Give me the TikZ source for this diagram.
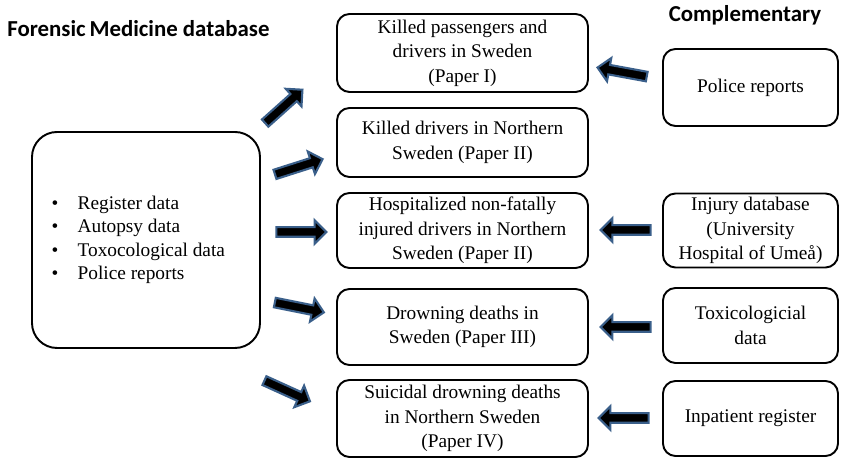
\documentclass[tikz,border=0pt]{standalone}
\usepackage{fontspec}
\setmainfont{Liberation Serif}
\newfontfamily\headfont{Carlito}
\usetikzlibrary{shapes.arrows}
\definecolor{arrowblue}{RGB}{58,95,138}
\tikzset{
  box/.style={draw, line width=1.1pt, rounded corners=0.25cm, align=center,
    font=\fontsize{11}{14}\selectfont, inner sep=0pt},
  midbox/.style={box, minimum width=5.02cm},
  sidebox/.style={box, minimum width=3.5cm},
  fatarrow/.style={single arrow, fill=black, draw=arrowblue, line width=1.2pt,
    minimum height=1cm, text height=0.15cm, text depth=0pt, text width=0pt,
    single arrow head extend=0.14cm, single arrow head indent=0pt, inner sep=0pt,
    midway, sloped, allow upside down},
  heading/.style={font=\headfont\bfseries\fontsize{13}{15}\selectfont, inner sep=0pt}
}
\begin{document}
\begin{tikzpicture}
			\useasboundingbox (0,0) rectangle (16.88,9.16);
			% headings
			\node[heading, anchor=west] (fmdtitle) at (0.14,8.58) {Forensic\,Medicine database};
			\node[heading] (comptitle) at (14.9,8.86) {Complementary};
			% forensic medicine database
			\node[box, minimum width=4.56cm, minimum height=4.32cm, rounded corners=0.5cm,
				font=\fontsize{11}{13.4}\selectfont, align=left] (fmd) at (2.92,4.36)
				{\textbullet\hspace{1em}Register data\\
				 \textbullet\hspace{1em}Autopsy data\\
				 \textbullet\hspace{1em}Toxocological data\hspace{0.8em}\mbox{}\\
				 \textbullet\hspace{1em}Police reports};
			% papers
			\node[midbox, minimum height=1.56cm] (paperone) at (9.25,8.10) {Killed passengers and\\drivers in Sweden\\(Paper I)};
			\node[midbox, minimum height=1.38cm] (papertwo) at (9.25,6.31) {Killed drivers in Northern\\Sweden (Paper II)};
			\node[midbox, minimum height=1.50cm] (papertwoh) at (9.25,4.55) {Hospitalized non-fatally\\injured drivers in Northern\\Sweden (Paper II)};
			\node[midbox, minimum height=1.52cm] (paperthree) at (9.25,2.62) {Drowning deaths in\\Sweden (Paper III)};
			\node[midbox, minimum height=1.54cm] (paperfour) at (9.25,0.79) {Suicidal drowning deaths\\in Northern Sweden\\(Paper IV)};
			% complementary sources
			\node[sidebox, minimum height=1.54cm] (police) at (15.01,7.41) {Police reports};
			\node[sidebox, minimum height=1.48cm] (injury) at (15.01,4.55) {Injury database\\(University\\Hospital of Umeå)};
			\node[sidebox, minimum height=1.50cm] (toxdata) at (15.01,2.65) {Toxicologicial\\data};
			\node[sidebox, minimum height=1.50cm] (inpatient) at (15.01,0.79) {Inpatient register};
			% arrow ends
			\coordinate (t1) at (5.26,6.66); \coordinate (h1) at (6.02,7.34);
			\coordinate (t2) at (5.46,5.66); \coordinate (h2) at (6.40,5.96);
			\coordinate (t3) at (5.48,4.52); \coordinate (h3) at (6.48,4.52);
			\coordinate (t4) at (5.44,3.12); \coordinate (h4) at (6.44,2.92);
			\coordinate (t5) at (5.26,1.56); \coordinate (h5) at (6.14,1.16);
			\coordinate (s1) at (12.98,7.62); \coordinate (e1) at (12.00,7.80);
			\coordinate (s2) at (13.04,4.56); \coordinate (e2) at (12.08,4.56);
			\coordinate (s3) at (13.04,2.62); \coordinate (e3) at (12.08,2.62);
			\coordinate (s4) at (13.04,0.80); \coordinate (e4) at (12.00,0.80);
			% block arrows
			\path (t1) -- (h1) node[fatarrow] (a1) {};
			\path (t2) -- (h2) node[fatarrow] (a2) {};
			\path (t3) -- (h3) node[fatarrow] (a3) {};
			\path (t4) -- (h4) node[fatarrow] (a4) {};
			\path (t5) -- (h5) node[fatarrow] (a5) {};
			\path (s1) -- (e1) node[fatarrow] (b1) {};
			\path (s2) -- (e2) node[fatarrow] (b2) {};
			\path (s3) -- (e3) node[fatarrow] (b3) {};
			\path (s4) -- (e4) node[fatarrow] (b4) {};
		\end{tikzpicture}
\end{document}
